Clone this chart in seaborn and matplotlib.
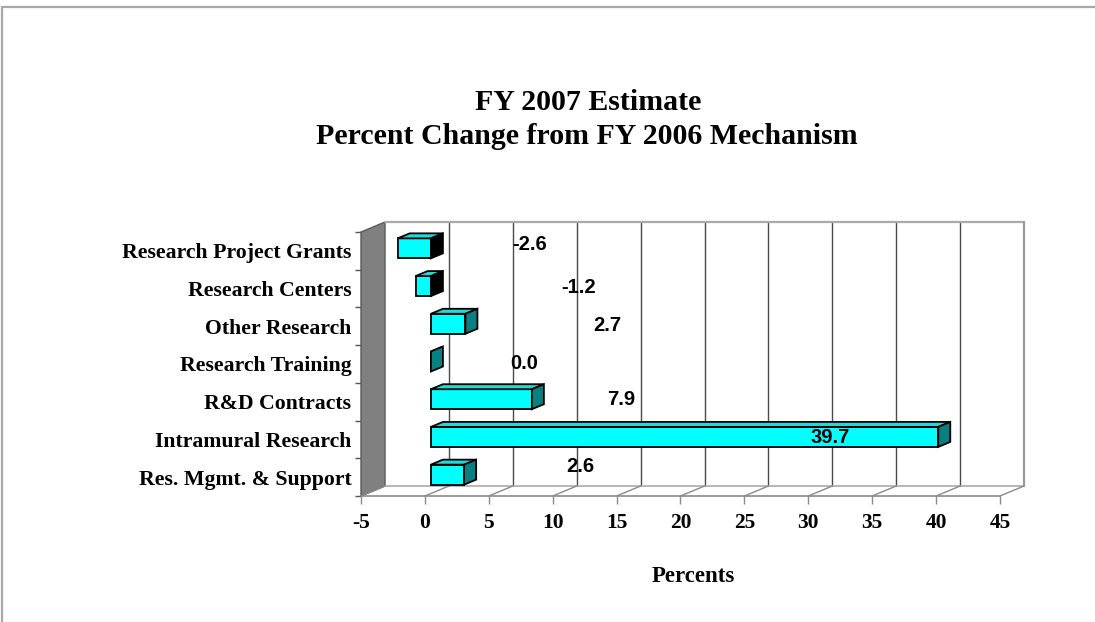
import numpy as np
import matplotlib
matplotlib.use("Agg")
import matplotlib.pyplot as plt
from matplotlib.patches import Polygon
from matplotlib.lines import Line2D
import seaborn as sns

# Chart data
categories = [
    "Research Project Grants",
    "Research Centers",
    "Other Research",
    "Research Training",
    "R&D Contracts",
    "Intramural Research",
    "Res. Mgmt. & Support",
]
pct_change = [-2.6, -1.2, 2.7, 0.0, 7.9, 39.7, 2.6]
x_ticks = [-5, 0, 5, 10, 15, 20, 25, 30, 35, 40, 45]
x_tick_labels = ["-5", "0", "5", "10", "15", "20", "25", "30", "35", "40", "45"]

# Where each value label sits (data coordinates of the front plane)
label_x = [8.2, 12.0, 14.25, 7.75, 15.35, 31.7, 12.15]
label_y = [-0.18, 0.98, 1.97, 3.0, 3.95, 4.94, 5.71]

sns.set_style("white")
plt.rcParams["font.family"] = ["Liberation Serif", "DejaVu Serif"]
plt.rcParams["axes.unicode_minus"] = False
plt.rcParams["text.color"] = "black"
plt.rcParams["xtick.labelcolor"] = "black"
plt.rcParams["ytick.labelcolor"] = "black"

SERIF = ["Liberation Serif", "DejaVu Serif"]
SANS = ["Liberation Sans", "DejaVu Sans"]

# Oblique depth of the 3-D box, in data units
DX = 1.88   # horizontal shift from front plane to back wall
DY = 0.265  # vertical shift (upwards) from front plane to back wall
BAR_H = 0.53
BAR_D0, BAR_D1 = 0.25, 0.75  # bar depth span as fraction of the box depth

XMIN, XMAX = -5, 45
YTOP, YBOT = -0.5, 6.5

fig = plt.figure(figsize=(10.95, 6.22), dpi=100)
ax = fig.add_axes([361 / 1095, 1 - 496 / 622, (1024 - 361) / 1095, (496 - 222) / 622])

# Front faces of the bars
sns.barplot(x=pct_change, y=categories, orient="h", color="#00FFFF", saturation=1,
            width=BAR_H, edgecolor="black", linewidth=1.3, ax=ax, zorder=4)
sx, sy = BAR_D0 * DX, BAR_D0 * DY
for p in ax.patches:
    p.set_x(p.get_x() + sx)
    p.set_y(p.get_y() - sy)

# Top and end faces for the 3-D look
bdx, bdy = (BAR_D1 - BAR_D0) * DX, (BAR_D1 - BAR_D0) * DY
for i, v in enumerate(pct_change):
    x0 = min(v, 0) + sx
    x1 = max(v, 0) + sx
    yt = i - BAR_H / 2 - sy
    yb = i + BAR_H / 2 - sy
    top = Polygon([(x0, yt), (x1, yt), (x1 + bdx, yt - bdy), (x0 + bdx, yt - bdy)],
                  closed=True, facecolor="#22D8D8", edgecolor="black", lw=1.3, zorder=4)
    side_col = "black" if v < 0 else "#0A7F7F"
    side = Polygon([(x1, yt), (x1, yb), (x1 + bdx, yb - bdy), (x1 + bdx, yt - bdy)],
                   closed=True, facecolor=side_col, edgecolor="black", lw=1.3, zorder=4)
    ax.add_patch(top)
    ax.add_patch(side)

# Left wall
wall = Polygon([(XMIN, YTOP), (XMIN + DX, YTOP - DY), (XMIN + DX, YBOT - DY), (XMIN, YBOT)],
               closed=True, facecolor="#808080", edgecolor="#5a5a5a", lw=1.0, zorder=1,
               clip_on=False)
ax.add_patch(wall)

# Back wall gridlines and outline
for t in x_ticks[1:-1]:
    ax.plot([t + DX, t + DX], [YTOP - DY, YBOT - DY], color="#4a4a4a", lw=1.0, zorder=1)
ax.plot([XMIN + DX, XMAX + DX], [YTOP - DY, YTOP - DY], color="#aaaaaa", lw=1.6, zorder=1,
        clip_on=False)
ax.plot([XMAX + DX, XMAX + DX], [YTOP - DY, YBOT - DY], color="#999999", lw=1.6, zorder=1,
        clip_on=False)

# Floor
ax.plot([XMIN, XMAX], [YBOT, YBOT], color="#8a8a8a", lw=1.2, zorder=1, clip_on=False)
ax.plot([XMIN + DX, XMAX + DX], [YBOT - DY, YBOT - DY], color="#aaaaaa", lw=1.2, zorder=1,
        clip_on=False)
for t in x_ticks:
    ax.plot([t, t + DX], [YBOT, YBOT - DY], color="#8a8a8a", lw=1.0, zorder=1, clip_on=False)

# Value labels
for v, lx, ly in zip(pct_change, label_x, label_y):
    ax.text(lx, ly, f"{v:.1f}", ha="center", va="center", fontsize=14.5,
            fontweight="bold", family=SANS, color="black", zorder=6)

ax.set_xlim(XMIN, XMAX + DX)
ax.set_ylim(YBOT, YTOP - DY)
for s in ax.spines.values():
    s.set_visible(False)
ax.set_xlabel("")
ax.set_ylabel("")

ax.set_xticks(x_ticks)
ax.set_xticklabels(x_tick_labels, fontsize=15.5, fontweight="bold", family=SERIF)
ax.tick_params(axis="x", which="major", bottom=True, direction="out", length=6,
               width=1, color="#8a8a8a", pad=6)

ax.set_yticks(range(len(categories)))
ax.set_yticklabels(categories, fontsize=15.7, fontweight="bold", family=SERIF)
ax.set_yticks(np.arange(YTOP, YBOT + 0.01, 1.0), minor=True)
ax.tick_params(axis="y", which="major", left=True, length=0, pad=7)
ax.tick_params(axis="y", which="minor", left=True, direction="out", length=4,
               width=1, color="#555555")

# Titles
fig.text(588 / 1095, 1 - 103 / 622, "FY 2007 Estimate", ha="center", va="center",
         fontsize=21.5, fontweight="bold", family=SERIF)
fig.text(587 / 1095, 1 - 137 / 622, "Percent Change from FY 2006 Mechanism", ha="center",
         va="center", fontsize=21.5, fontweight="bold", family=SERIF)
fig.text(693 / 1095, 1 - 577 / 622, "Percents", ha="center", va="center",
         fontsize=16.5, fontweight="bold", family=SERIF)

# Frame lines along the top and left edges
fig.add_artist(Line2D([2 / 1095, 1.0], [1 - 7 / 622, 1 - 7 / 622], transform=fig.transFigure,
                      color="#a8a8a8", lw=1.6))
fig.add_artist(Line2D([2 / 1095, 2 / 1095], [0, 1 - 7 / 622], transform=fig.transFigure,
                      color="#a8a8a8", lw=1.6))

fig.savefig("out.png", dpi=100, facecolor="white")
